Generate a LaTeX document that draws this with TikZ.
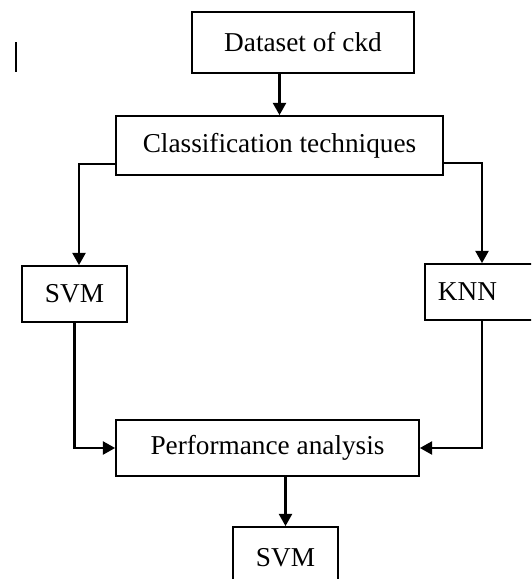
\documentclass[tikz,border=0pt]{standalone}
\usepackage{fontspec}
\setmainfont{Liberation Serif}
\usetikzlibrary{arrows.meta,positioning,calc}
\newcommand{\pxunit}{0.44pt}
\tikzset{flow box/.style={draw=black, line width=0.8pt, fill=white, font=\fontsize{12}{14}\selectfont}}
\tikzset{flow line/.style={line width=0.9pt, ->, >={Triangle[length=5.4pt,width=5.8pt]}}}

\begin{document}
\begin{tikzpicture}[x=\pxunit, y=-\pxunit]
	\useasboundingbox (0,0) rectangle (531,579);
	\clip (0,0) rectangle (531,579);
	\node[flow box, minimum width=222*\pxunit, minimum height=61*\pxunit] at (303,42.5) (data) {Dataset of ckd};
	\node[flow box, minimum width=327*\pxunit, minimum height=59*\pxunit] at (279.5,145.5) (classif) {Classification techniques};
	\node[flow box, minimum width=105*\pxunit, minimum height=56*\pxunit] at (74.5,294) (svm) {SVM};
	\node[flow box, anchor=west, text width=150*\pxunit, align=left, inner xsep=13*\pxunit, minimum height=56*\pxunit] at (424,292) (knn) {KNN};
	\node[flow box, minimum width=303*\pxunit, minimum height=56*\pxunit] at (267.5,448) (perf) {Performance analysis};
	\node[flow box, minimum width=105*\pxunit, minimum height=62*\pxunit] at (285.5,558) (best) {SVM};
	\coordinate (cl) at (79,164);
	\coordinate (cr) at (482,163);
	% cursor mark on the left
	\draw[line width=0.9pt] (16,42) -- (16,72);
	\draw[flow line] (data.south -| classif.north) -- (classif.north);
	\draw[flow line] (cl -| classif.west) -- (cl) -- (cl |- svm.north);
	\draw[flow line] (cr -| classif.east) -- (cr) -- (cr |- knn.north);
	\draw[flow line] (svm.south) |- (perf.west);
	\draw[flow line] (cr |- knn.south) |- (perf.east);
	\draw[flow line] (perf.south -| best.north) -- (best.north);
\end{tikzpicture}
\end{document}
